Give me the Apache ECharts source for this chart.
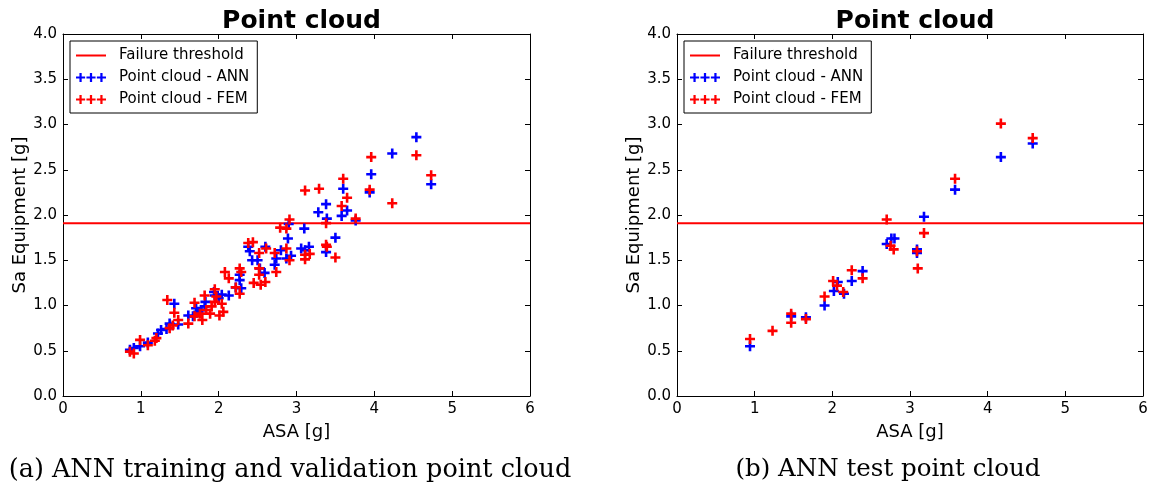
<!DOCTYPE html>
<html>
<head>
<meta charset="utf-8">
<script src="https://cdn.jsdelivr.net/npm/echarts@6/dist/echarts.min.js"></script>
<style>html,body{margin:0;padding:0;background:#fff;}#c{width:1151px;height:490px;}</style>
</head>
<body>
<div id="c"></div>
<script>
// ---- data ----
const xTicks = [0, 1, 2, 3, 4, 5, 6];
const yTicks = [0.0, 0.5, 1.0, 1.5, 2.0, 2.5, 3.0, 3.5, 4.0];
const threshold = 1.91;
const titles = ['Point cloud', 'Point cloud'];
const captions = ['(a) ANN training and validation point cloud', '(b) ANN test point cloud'];
const seriesNames = ['Failure threshold', 'Point cloud - ANN', 'Point cloud - FEM'];

const trainANN = [
  [4.54,2.86],[4.23,2.68],[4.73,2.34],[3.96,2.45],[3.94,2.25],[3.60,2.29],[3.38,2.12],[3.28,2.03],
  [3.65,2.05],[3.58,1.99],[3.39,1.96],[3.76,1.94],[3.10,1.85],[3.50,1.75],[2.90,1.90],[2.89,1.74],
  [3.06,1.63],[3.16,1.65],[3.11,1.61],[3.38,1.59],[2.80,1.61],[2.74,1.52],[2.72,1.45],[2.87,1.52],
  [2.93,1.55],[2.60,1.65],[2.40,1.60],[2.38,1.65],[2.43,1.50],[2.50,1.50],[2.53,1.41],[2.59,1.36],
  [2.27,1.34],[2.27,1.28],[2.29,1.19],[2.22,1.20],[2.13,1.11],[2.04,1.12],[1.95,1.11],[1.94,1.15],
  [1.83,1.04],[1.71,0.97],[1.61,0.89],[1.67,0.88],[1.74,0.93],[1.43,1.02],[1.48,0.79],[1.37,0.80],
  [1.33,0.74],[1.26,0.73],[1.22,0.69],[1.09,0.59],[0.99,0.55],[0.91,0.53],[0.86,0.51],[1.82,0.99],
  [2.00,1.08],[1.78,0.95]
];
const trainFEM = [
  [3.96,2.64],[4.54,2.66],[4.73,2.44],[3.60,2.40],[3.11,2.27],[3.29,2.29],[3.94,2.28],[3.65,2.19],
  [3.58,2.10],[4.23,2.13],[3.76,1.96],[3.38,1.91],[2.91,1.95],[2.79,1.86],[2.87,1.85],[3.38,1.67],
  [3.39,1.65],[3.50,1.53],[3.11,1.56],[3.11,1.51],[3.17,1.57],[2.91,1.50],[2.87,1.63],[2.72,1.58],
  [2.61,1.63],[2.52,1.58],[2.38,1.69],[2.44,1.70],[2.52,1.41],[2.52,1.34],[2.60,1.26],[2.54,1.23],
  [2.45,1.25],[2.74,1.37],[2.27,1.41],[2.29,1.37],[2.08,1.37],[2.13,1.30],[2.22,1.20],[2.27,1.13],
  [1.95,1.18],[1.97,1.10],[2.04,1.02],[2.06,0.93],[2.01,0.89],[1.91,0.99],[1.82,1.11],[1.69,1.03],
  [1.84,0.95],[1.76,0.91],[1.69,0.88],[1.79,0.84],[1.61,0.80],[1.34,1.06],[1.43,0.92],[1.48,0.84],
  [1.41,0.78],[1.37,0.75],[1.20,0.64],[1.18,0.61],[1.09,0.56],[0.99,0.62],[0.86,0.49],[0.91,0.47],
  [1.95,1.04],[1.89,0.91]
];
const testANN = [
  [0.94,0.55],[1.47,0.88],[1.66,0.87],[1.90,1.00],[2.02,1.16],[2.07,1.26],[2.15,1.13],[2.25,1.27],
  [2.39,1.38],[2.70,1.68],[2.76,1.74],[2.80,1.74],[3.09,1.62],[3.09,1.58],[3.18,1.98],[3.58,2.28],
  [4.17,2.64],[4.58,2.79]
];
const testFEM = [
  [0.94,0.63],[1.23,0.72],[1.47,0.91],[1.47,0.81],[1.66,0.85],[1.90,1.10],[2.01,1.27],[2.06,1.22],
  [2.14,1.15],[2.25,1.39],[2.39,1.30],[2.70,1.95],[2.75,1.66],[2.79,1.62],[3.09,1.60],[3.10,1.41],
  [3.18,1.80],[3.58,2.40],[4.17,3.01],[4.58,2.85]
];

// ---- styling / layout ----
const BLUE = '#0000ff', RED = '#ff0000';
const FONT = 'DejaVu Sans';
const plus = 'path://M3.7,0H6.3V3.7H10V6.3H6.3V10H3.7V6.3H0V3.7H3.7Z';
const plus3 = 'path://M3.6,0.5H5.8V3.9H9.2V6.1H5.8V9.5H3.6V6.1H0.2V3.9H3.6Z M13.9,0.5H16.1V3.9H19.5V6.1H16.1V9.5H13.9V6.1H10.5V3.9H13.9Z M24.2,0.5H26.4V3.9H29.8V6.1H26.4V9.5H24.2V6.1H20.8V3.9H24.2Z';
const lineIcon = 'path://M0,4H30V6H0Z';

const grids = [
  {left: 63, top: 34, width: 467, height: 362},
  {left: 677, top: 34, width: 466, height: 362}
];
const xMin = xTicks[0], xMax = xTicks[xTicks.length - 1];
const yMin = yTicks[0], yMax = yTicks[yTicks.length - 1];

const xAxis = [], yAxis = [], series = [], legend = [], title = [];
const datasets = [[trainANN, trainFEM], [testANN, testFEM]];

grids.forEach((g, i) => {
  xAxis.push({
    gridIndex: i, type: 'value', min: xMin, max: xMax, interval: 1, position: 'bottom',
    name: 'ASA [g]', nameLocation: 'middle', nameGap: 27,
    nameTextStyle: {fontFamily: FONT, fontSize: 18, color: '#000'},
    axisLine: {onZero: false, lineStyle: {color: '#000', width: 1}},
    axisTick: {inside: true, length: 5, lineStyle: {color: '#000'}},
    axisLabel: {fontFamily: FONT, fontSize: 15, color: '#000', margin: 6},
    splitLine: {show: false}
  });
  xAxis.push({
    gridIndex: i, type: 'value', min: xMin, max: xMax, interval: 1, position: 'top',
    axisLine: {onZero: false, lineStyle: {color: '#000', width: 1}},
    axisTick: {inside: true, length: 5, lineStyle: {color: '#000'}},
    axisLabel: {show: false}, splitLine: {show: false}
  });
  yAxis.push({
    gridIndex: i, type: 'value', min: yMin, max: yMax, interval: 0.5, position: 'left',
    name: 'Sa Equipment [g]', nameLocation: 'middle', nameGap: 23,
    nameTextStyle: {fontFamily: FONT, fontSize: 18, color: '#000'},
    axisLine: {onZero: false, lineStyle: {color: '#000', width: 1}},
    axisTick: {inside: true, length: 5, lineStyle: {color: '#000'}},
    axisLabel: {fontFamily: FONT, fontSize: 15, color: '#000', margin: 6,
      formatter: v => v.toFixed(1)},
    splitLine: {show: false}
  });
  yAxis.push({
    gridIndex: i, type: 'value', min: yMin, max: yMax, interval: 0.5, position: 'right',
    axisLine: {onZero: false, lineStyle: {color: '#000', width: 1}},
    axisTick: {inside: true, length: 5, lineStyle: {color: '#000'}},
    axisLabel: {show: false}, splitLine: {show: false}
  });

  const xi = i * 2, yi = i * 2;
  series.push({
    name: seriesNames[0], type: 'line', xAxisIndex: xi, yAxisIndex: yi,
    data: [[xMin, threshold], [xMax, threshold]], showSymbol: false, symbol: 'none',
    lineStyle: {color: RED, width: 2}, itemStyle: {color: RED}, silent: true, z: 1
  });
  series.push({
    name: seriesNames[1], type: 'scatter', xAxisIndex: xi, yAxisIndex: yi,
    data: datasets[i][0], symbol: plus, symbolSize: 10,
    itemStyle: {color: BLUE, opacity: 1}, z: 2
  });
  series.push({
    name: seriesNames[2], type: 'scatter', xAxisIndex: xi, yAxisIndex: yi,
    data: datasets[i][1], symbol: plus, symbolSize: 10,
    itemStyle: {color: RED, opacity: 1}, z: 3
  });

  legend.push({
    orient: 'vertical', left: g.left + 7, top: g.top + 7,
    data: [
      {name: seriesNames[0], icon: lineIcon, itemStyle: {color: RED}},
      {name: seriesNames[1], icon: plus3, itemStyle: {color: BLUE}},
      {name: seriesNames[2], icon: plus3, itemStyle: {color: RED}}
    ],
    itemWidth: 30, itemHeight: 10, itemGap: 7, selectedMode: false,
    backgroundColor: '#fff', borderColor: '#000', borderWidth: 1, borderRadius: 0,
    padding: [7, 8, 6, 6],
    textStyle: {fontFamily: FONT, fontSize: 15, color: '#000', padding: [0, 0, 0, 8]}
  });

  title.push({
    text: titles[i], left: g.left + g.width / 2, textAlign: 'center', top: 4,
    textStyle: {fontFamily: FONT, fontWeight: 'bold', fontSize: 25, color: '#000'}
  });
});

const chart = echarts.init(document.getElementById('c'), null, {renderer: 'canvas'});
chart.setOption({
  animation: false,
  backgroundColor: '#fff',
  title: title,
  grid: grids.map(g => Object.assign({containLabel: false}, g)),
  xAxis: xAxis,
  yAxis: yAxis,
  legend: legend,
  series: series,
  graphic: [
    {type: 'text', x: 290, y: 470,
      style: {text: captions[0], font: '25.5px "DejaVu Serif"', fill: '#000',
        align: 'center', verticalAlign: 'middle'}},
    {type: 'text', x: 888, y: 470,
      style: {text: captions[1], font: '24.5px "DejaVu Serif"', fill: '#000',
        align: 'center', verticalAlign: 'middle'}}
  ]
});
</script>
</body>
</html>
